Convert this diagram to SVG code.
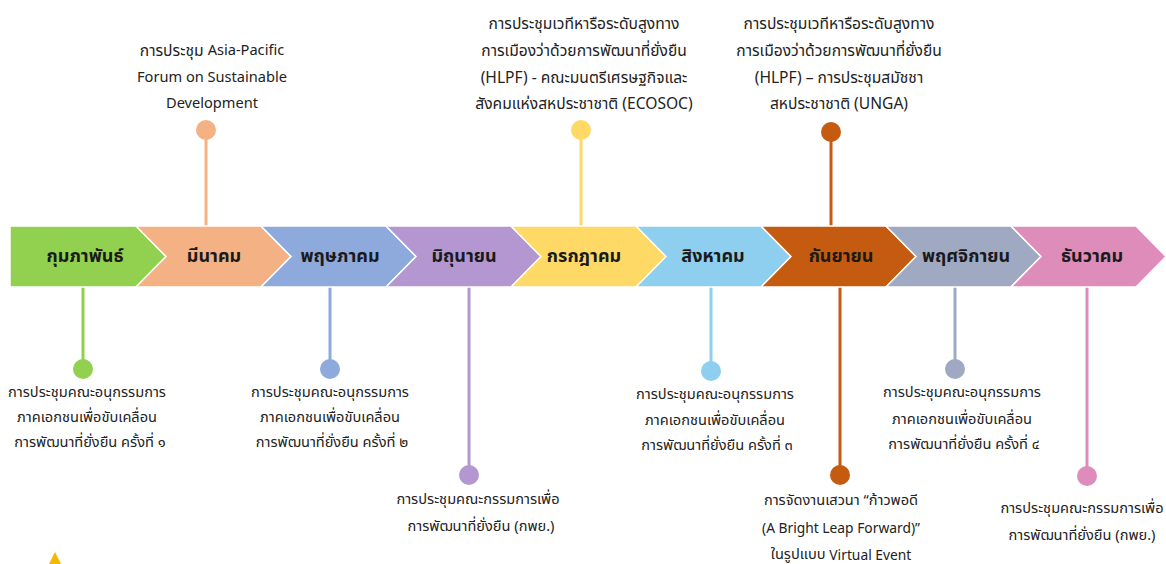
<svg xmlns="http://www.w3.org/2000/svg" width="1166" height="564" viewBox="0 0 1166 564">
<style>
.seg{stroke:#ffffff;stroke-width:1.5}
.mon{font-family:"Noto Sans Thai","Noto Sans","DejaVu Sans",sans-serif;font-size:18px;font-weight:bold;fill:#1a1a1a;text-anchor:middle;dominant-baseline:central}
.ev{font-family:"Noto Sans Thai","Noto Sans","DejaVu Sans",sans-serif;font-size:14.6px;fill:#222;text-anchor:middle;dominant-baseline:central}
.evt{font-family:"Noto Sans Thai","Noto Sans","DejaVu Sans",sans-serif;font-size:15.6px;fill:#222;text-anchor:middle;dominant-baseline:central}
.lat{font-size:13.8px}
.stem{stroke-width:3;fill:none}
</style>
<rect width="1166" height="564" fill="#ffffff"/>
<g id="connectors">
<line class="stem" x1="83" y1="287" x2="83" y2="369" stroke="#92D050"/>
<line class="stem" x1="206" y1="130" x2="206" y2="226" stroke="#F4B183"/>
<line class="stem" x1="330" y1="287" x2="330" y2="369" stroke="#8EA9DB"/>
<line class="stem" x1="469" y1="287" x2="469" y2="475" stroke="#B497D1"/>
<line class="stem" x1="581" y1="130" x2="581" y2="226" stroke="#FFD966"/>
<line class="stem" x1="711" y1="287" x2="711" y2="371" stroke="#8ECFF0"/>
<line class="stem" x1="831" y1="132" x2="831" y2="226" stroke="#C55A11"/>
<line class="stem" x1="840" y1="287" x2="840" y2="475" stroke="#C55A11"/>
<line class="stem" x1="955" y1="287" x2="955" y2="369" stroke="#A0A9C2"/>
<line class="stem" x1="1087" y1="287" x2="1087" y2="476" stroke="#DE8CBA"/>
</g>
<g id="m-feb"><polygon class="seg" fill="#92D050" points="10,226 136,226 166,256.5 136,287 10,287"/><text class="mon" x="85" y="256">กุมภาพันธ์</text></g>
<g id="m-mar"><polygon class="seg" fill="#F4B183" points="136,226 261,226 291,256.5 261,287 136,287 166,256.5"/><text class="mon" x="214" y="256">มีนาคม</text></g>
<g id="m-may"><polygon class="seg" fill="#8EA9DB" points="261,226 386,226 416,256.5 386,287 261,287 291,256.5"/><text class="mon" x="340" y="256">พฤษภาคม</text></g>
<g id="m-jun"><polygon class="seg" fill="#B497D1" points="386,226 511,226 541,256.5 511,287 386,287 416,256.5"/><text class="mon" x="464" y="256">มิถุนายน</text></g>
<g id="m-jul"><polygon class="seg" fill="#FFD966" points="511,226 636,226 666,256.5 636,287 511,287 541,256.5"/><text class="mon" x="584" y="256">กรกฎาคม</text></g>
<g id="m-aug"><polygon class="seg" fill="#8ECFF0" points="636,226 761,226 791,256.5 761,287 636,287 666,256.5"/><text class="mon" x="713" y="256">สิงหาคม</text></g>
<g id="m-sep"><polygon class="seg" fill="#C55A11" points="761,226 886,226 916,256.5 886,287 761,287 791,256.5"/><text class="mon" x="841" y="256">กันยายน</text></g>
<g id="m-nov"><polygon class="seg" fill="#A0A9C2" points="886,226 1011,226 1041,256.5 1011,287 886,287 916,256.5"/><text class="mon" x="966" y="256">พฤศจิกายน</text></g>
<g id="m-dec"><polygon class="seg" fill="#DE8CBA" points="1011,226 1136,226 1166,256.5 1136,287 1011,287 1041,256.5"/><text class="mon" x="1092" y="256">ธันวาคม</text></g>

<g id="ev-feb"><circle cx="83" cy="369" r="10" fill="#92D050"/>
<text class="ev" x="87" y="393">การประชุมคณะอนุกรรมการ</text>
<text class="ev" x="87" y="418">ภาคเอกชนเพื่อขับเคลื่อน</text>
<text class="ev" x="90" y="443">การพัฒนาที่ยั่งยืน ครั้งที่ ๑</text></g>
<g id="ev-mar"><circle cx="206" cy="130" r="10" fill="#F4B183"/>
<text class="evt" x="212" y="51">การประชุม <tspan class="lat" style="font-size:14.6px">Asia-Pacific</tspan></text>
<text class="ev" x="212" y="78">Forum on Sustainable</text>
<text class="ev" x="212" y="104">Development</text></g>
<g id="ev-may"><circle cx="330" cy="369" r="10" fill="#8EA9DB"/>
<text class="ev" x="330" y="393">การประชุมคณะอนุกรรมการ</text>
<text class="ev" x="330" y="418">ภาคเอกชนเพื่อขับเคลื่อน</text>
<text class="ev" x="332" y="443">การพัฒนาที่ยั่งยืน ครั้งที่ ๒</text></g>
<g id="ev-jun"><circle cx="469" cy="475" r="10" fill="#B497D1"/>
<text class="ev" x="478" y="500">การประชุมคณะกรรมการเพื่อ</text>
<text class="ev" x="481" y="527">การพัฒนาที่ยั่งยืน (กพย.)</text></g>
<g id="ev-jul"><circle cx="581" cy="130" r="10" fill="#FFD966"/>
<text class="evt" x="584" y="24">การประชุมเวทีหารือระดับสูงทาง</text>
<text class="evt" x="584" y="51">การเมืองว่าด้วยการพัฒนาที่ยั่งยืน</text>
<text class="evt" x="584" y="78">(HLPF) - คณะมนตรีเศรษฐกิจและ</text>
<text class="evt" x="584" y="104">สังคมแห่งสหประชาชาติ (ECOSOC)</text></g>
<g id="ev-aug"><circle cx="711" cy="371" r="10" fill="#8ECFF0"/>
<text class="ev" x="715" y="395">การประชุมคณะอนุกรรมการ</text>
<text class="ev" x="715" y="421">ภาคเอกชนเพื่อขับเคลื่อน</text>
<text class="ev" x="717" y="446">การพัฒนาที่ยั่งยืน ครั้งที่ ๓</text></g>
<g id="ev-sep-top"><circle cx="831" cy="132" r="10" fill="#C55A11"/>
<text class="evt" x="839" y="24">การประชุมเวทีหารือระดับสูงทาง</text>
<text class="evt" x="839" y="51">การเมืองว่าด้วยการพัฒนาที่ยั่งยืน</text>
<text class="evt" x="839" y="78">(HLPF) – การประชุมสมัชชา</text>
<text class="evt" x="839" y="104">สหประชาชาติ (UNGA)</text></g>
<g id="ev-sep-bottom"><circle cx="840" cy="475" r="10" fill="#C55A11"/>
<text class="ev" x="841" y="501">การจัดงานเสวนา “ก้าวพอดี</text>
<text class="ev lat" x="841" y="528">(A Bright Leap Forward)”</text>
<text class="ev" x="841" y="555">ในรูปแบบ <tspan class="lat">Virtual Event</tspan></text></g>
<g id="ev-nov"><circle cx="955" cy="369" r="10" fill="#A0A9C2"/>
<text class="ev" x="962" y="393">การประชุมคณะอนุกรรมการ</text>
<text class="ev" x="962" y="420">ภาคเอกชนเพื่อขับเคลื่อน</text>
<text class="ev" x="964" y="445">การพัฒนาที่ยั่งยืน ครั้งที่ ๔</text></g>
<g id="ev-dec"><circle cx="1087" cy="476" r="10" fill="#DE8CBA"/>
<text class="ev" x="1082" y="509">การประชุมคณะกรรมการเพื่อ</text>
<text class="ev" x="1082" y="536">การพัฒนาที่ยั่งยืน (กพย.)</text></g>
<polygon id="warn" points="55,552 48,566 62,566" fill="#F5B800"/>
</svg>
